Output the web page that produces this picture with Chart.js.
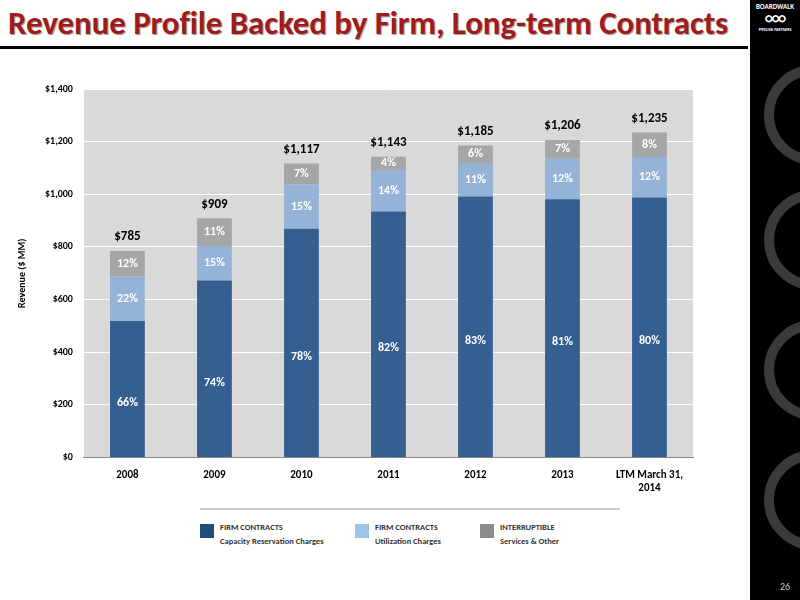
<!DOCTYPE html>
<html><head><meta charset="utf-8">
<script src="https://cdn.jsdelivr.net/npm/chart.js@4"></script>
<style>
body{margin:0;width:800px;height:600px;background:#fff;position:relative;overflow:hidden;font-family:Calibri,Carlito,"Liberation Sans",sans-serif}
#title{position:absolute;left:8px;top:3px;font-size:33px;font-weight:bold;color:#a01c1c;letter-spacing:-0.1px;text-shadow:1px 1px 1px #999}
#rule{position:absolute;left:0;top:46px;width:748px;height:3px;background:#000}
#side{position:absolute;left:750px;top:0;width:50px;height:600px;background:#000;overflow:hidden}
.ring{position:absolute;left:14px;width:80px;height:80px;border:10px solid #3a3a3a;border-radius:50%}
#logo{position:absolute;left:752px;top:2px;width:46px;height:44px;color:#fff;font-size:7px;font-weight:bold;text-align:center}
#pg{position:absolute;left:780px;top:580px;color:#ccc;font-size:10px}
#wrap{position:absolute;left:0;top:80px;width:710px;height:418px}
#leg{position:absolute;left:200px;top:508px;width:420px;border-top:2px solid #ccc;font-size:8.5px;font-weight:bold;color:#333}
.li{position:absolute;top:10px}
.sw{position:absolute;top:4px;width:14px;height:14px}
.tx{position:absolute;left:20px;white-space:nowrap;line-height:14px}
</style></head><body>
<div id="title">Revenue Profile Backed by Firm, Long-term Contracts</div>
<div id="rule"></div>
<div id="side"><div class="ring" style="top:65px"></div><div class="ring" style="top:190px"></div><div class="ring" style="top:320px"></div><div class="ring" style="top:450px"></div></div>
<div id="logo">BOARDWALK<div style="font-size:14px;letter-spacing:-1px;line-height:16px">○○○</div><div style="font-size:4px">PIPELINE PARTNERS</div></div>
<div id="pg">26</div>
<div id="wrap"><canvas id="c"></canvas></div>
<div id="leg">
<div class="li" style="left:0"><div class="sw" style="background:#1f4e79"></div><div class="tx">FIRM CONTRACTS<br>Capacity Reservation Charges</div></div>
<div class="li" style="left:155px"><div class="sw" style="background:#9dc3e6"></div><div class="tx">FIRM CONTRACTS<br>Utilization Charges</div></div>
<div class="li" style="left:280px"><div class="sw" style="background:#8c8c8c"></div><div class="tx">INTERRUPTIBLE<br>Services &amp; Other</div></div>
</div>
<script>
const categories=["2008","2009","2010","2011","2012","2013",["LTM March 31,","2014"]];
const totals=[785,909,1117,1143,1185,1206,1235];
const capacity=[519,673,869,935,992,981,988];
const utilization=[169,131,169,157,127,154,154];
const interruptible=[97,105,79,51,66,71,93];
const capPct=["66%","74%","78%","82%","83%","81%","80%"];
const utilPct=["22%","15%","15%","14%","11%","12%","12%"];
const intPct=["12%","11%","7%","4%","6%","7%","8%"];
const labels=[capPct,utilPct,intPct];
const bg={id:'bg',beforeDraw(c){const a=c.chartArea,x=c.ctx;x.save();x.fillStyle='#d9d9d9';x.fillRect(a.left,a.top,a.right-a.left,a.bottom-a.top);x.restore();}};
const lbl={id:'lbl',afterDatasetsDraw(c){const x=c.ctx;x.save();x.font='bold 12px Calibri,Carlito,sans-serif';x.textAlign='center';x.textBaseline='middle';
c.data.datasets.forEach((d,i)=>{c.getDatasetMeta(i).data.forEach((b,j)=>{x.fillStyle='#fff';x.fillText(labels[i][j],b.x,(b.y+b.base)/2+(i==0?14:0));});});
x.fillStyle='#000';x.font='bold 13px Calibri,Carlito,sans-serif';const m=c.getDatasetMeta(2);m.data.forEach((b,j)=>{x.fillText('$'+totals[j].toLocaleString('en-US'),b.x,b.y-14);});x.restore();}};
new Chart(document.getElementById('c'),{type:'bar',
data:{labels:categories,datasets:[
{data:capacity,backgroundColor:'#355f91'},
{data:utilization,backgroundColor:'#95b3d7'},
{data:interruptible,backgroundColor:'#a6a6a6'}]},
options:{responsive:true,maintainAspectRatio:false,animation:false,
layout:{padding:{top:8,right:17,left:12}},
datasets:{bar:{barPercentage:0.4,categoryPercentage:1}},
plugins:{legend:{display:false},tooltip:{enabled:false}},
scales:{x:{stacked:true,grid:{display:false},border:{color:'#888'},ticks:{color:'#000',font:{size:11,weight:'bold',family:'Calibri,Carlito,sans-serif'},maxRotation:0}},
y:{stacked:true,min:0,max:1400,ticks:{stepSize:200,color:'#000',font:{size:10,weight:'bold',family:'Calibri,Carlito,sans-serif'},callback:v=>'$'+v.toLocaleString('en-US')},grid:{color:'#fff'},border:{display:false},
title:{display:true,text:'Revenue ($ MM)',color:'#000',padding:{bottom:14},font:{size:10,weight:'bold',family:'Calibri,Carlito,sans-serif'}}}}},
plugins:[bg,lbl]});
</script></body></html>
